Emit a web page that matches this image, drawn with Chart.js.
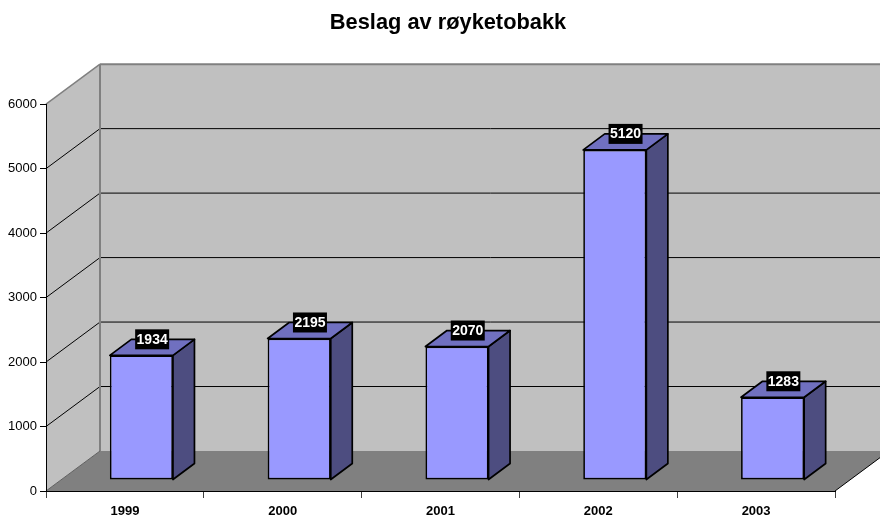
<!DOCTYPE html>
<html>
<head>
<meta charset="utf-8">
<title>Beslag av røyketobakk</title>
<script src="https://cdn.jsdelivr.net/npm/chart.js@4/dist/chart.umd.min.js"></script>
<style>
  html, body { margin: 0; padding: 0; background: #fff; overflow: hidden; }
  canvas { display: block; }
</style>
</head>
<body>
<canvas id="chart" width="880" height="516"></canvas>
<script>
const years = ['1999', '2000', '2001', '2002', '2003'];
const seizures = [1934, 2195, 2070, 5120, 1283];
const yTicks = [0, 1000, 2000, 3000, 4000, 5000, 6000];

const FONT = '"Liberation Sans", Arial, sans-serif';
// Excel style 3D box: wall depth and how far the bars sit off the floor edge
const WALL_DX = 54, WALL_DY = -40;
const BAR_DX = 16.5, BAR_DY = -11;
const DEPTH_DX = 21.5, DEPTH_DY = -16;

function poly(ctx, pts, fill, stroke, width) {
  ctx.beginPath();
  pts.forEach((p, i) => (i ? ctx.lineTo(p[0], p[1]) : ctx.moveTo(p[0], p[1])));
  ctx.closePath();
  if (fill) { ctx.fillStyle = fill; ctx.fill(); }
  if (stroke) { ctx.strokeStyle = stroke; ctx.lineWidth = width; ctx.lineJoin = 'round'; ctx.stroke(); }
}

function line(ctx, x1, y1, x2, y2, color, width) {
  ctx.beginPath();
  ctx.moveTo(x1, y1);
  ctx.lineTo(x2, y2);
  ctx.strokeStyle = color;
  ctx.lineWidth = width;
  ctx.stroke();
}

const box3d = {
  id: 'box3d',
  afterLayout(chart) {
    // the title sits a little right of the canvas centre
    chart.titleBlock.left = 16;
    chart.titleBlock.right = 880;
  },
  beforeDraw(chart) {
    const { ctx, scales: { x, y } } = chart;
    const l = x.left, r = x.right;
    const top = y.getPixelForValue(6000), base = y.getPixelForValue(0);
    ctx.save();
    // back wall, side wall, floor
    poly(ctx, [[l + WALL_DX, top + WALL_DY], [r + WALL_DX, top + WALL_DY], [r + WALL_DX, base + WALL_DY], [l + WALL_DX, base + WALL_DY]], '#c0c0c0');
    poly(ctx, [[l, top], [l + WALL_DX, top + WALL_DY], [l + WALL_DX, base + WALL_DY], [l, base]], '#c0c0c0');
    poly(ctx, [[l, base], [r, base], [r + WALL_DX, base + WALL_DY], [l + WALL_DX, base + WALL_DY]], '#808080');
    // gridlines run along the side wall then the back wall
    yTicks.slice(1, -1).forEach(v => {
      const py = y.getPixelForValue(v);
      line(ctx, l, py, l + WALL_DX, py + WALL_DY, '#000', 1);
      line(ctx, l + WALL_DX, py + WALL_DY, r + WALL_DX, py + WALL_DY, '#000', 1);
    });
    line(ctx, l, top, l + WALL_DX, top + WALL_DY, '#808080', 1.5);
    line(ctx, l + WALL_DX, top + WALL_DY, r + WALL_DX, top + WALL_DY, '#808080', 2);
    line(ctx, l + WALL_DX, top + WALL_DY, l + WALL_DX, base + WALL_DY, '#808080', 2);
    line(ctx, l, base, l + WALL_DX, base + WALL_DY, '#606060', 1);
    line(ctx, r, base, r + WALL_DX, base + WALL_DY, '#000', 1);
    ctx.restore();
  },
  beforeDatasetsDraw(chart) {
    chart.ctx.save();
    chart.ctx.translate(BAR_DX, BAR_DY);
  },
  afterDatasetsDraw(chart) {
    const { ctx } = chart;
    ctx.restore();
    ctx.save();
    const bars = chart.getDatasetMeta(0).data;
    bars.forEach(bar => {
      const x0 = bar.x - bar.width / 2 + BAR_DX, x1 = bar.x + bar.width / 2 + BAR_DX;
      const yt = bar.y + BAR_DY, yb = bar.base + BAR_DY;
      poly(ctx, [[x1, yt], [x1 + DEPTH_DX, yt + DEPTH_DY], [x1 + DEPTH_DX, yb + DEPTH_DY], [x1, yb]], '#4d4d80', '#000', 1.7);
      poly(ctx, [[x0, yt], [x0 + DEPTH_DX, yt + DEPTH_DY], [x1 + DEPTH_DX, yt + DEPTH_DY], [x1, yt]], '#7070c0', '#000', 1.7);
    });
    // value labels, black box centred on the back edge of the bar top
    ctx.font = 'bold 14px ' + FONT;
    ctx.textAlign = 'center';
    ctx.textBaseline = 'middle';
    bars.forEach((bar, i) => {
      const cx = bar.x + BAR_DX + DEPTH_DX / 2;
      const cy = bar.y + BAR_DY + DEPTH_DY;
      ctx.fillStyle = '#000';
      ctx.fillRect(cx - 17, cy - 10, 34, 20);
      ctx.fillStyle = '#fff';
      ctx.fillText(String(seizures[i]), cx, cy + 0.5);
    });
    ctx.restore();
  }
};

new Chart(document.getElementById('chart'), {
  type: 'bar',
  data: {
    labels: years,
    datasets: [{
      data: seizures,
      backgroundColor: '#9999ff',
      borderColor: '#000',
      borderWidth: 1.7,
      borderSkipped: false,
      categoryPercentage: 0.4,
      barPercentage: 1,
      clip: false
    }]
  },
  options: {
    responsive: false,
    animation: false,
    layout: { padding: { left: 0, right: 45, top: 0, bottom: 0 } },
    plugins: {
      legend: { display: false },
      tooltip: { enabled: false },
      title: {
        display: true,
        text: 'Beslag av røyketobakk',
        color: '#000',
        font: { family: FONT, size: 21.8, weight: 'bold' },
        padding: { top: 10, bottom: 68 }
      }
    },
    scales: {
      x: {
        afterFit(scale) { scale.height = 25; },
        grid: { drawOnChartArea: false, drawTicks: true, tickLength: 7, tickColor: '#404040', offset: true },
        border: { color: '#000', width: 1 },
        ticks: { color: '#000', font: { family: FONT, size: 13, weight: 'bold' }, padding: 6, maxRotation: 0 }
      },
      y: {
        min: 0,
        max: 6000,
        afterFit(scale) { scale.width = 46; },
        afterBuildTicks(scale) { scale.ticks = yTicks.map(v => ({ value: v })); },
        grid: { drawOnChartArea: false, drawTicks: true, tickLength: 6, tickColor: '#000' },
        border: { color: '#000', width: 1 },
        ticks: { color: '#000', font: { family: FONT, size: 13 }, padding: 3, callback: v => String(v) }
      }
    }
  },
  plugins: [box3d]
});
</script>
</body>
</html>
